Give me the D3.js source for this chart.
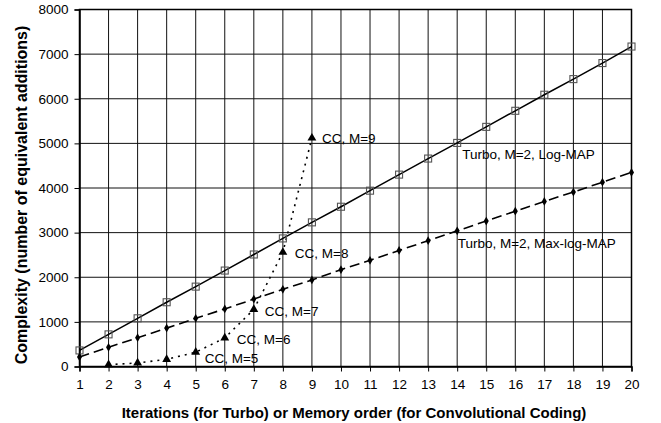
<!DOCTYPE html>
<html>
<head>
<meta charset="utf-8">
<script src="https://cdn.jsdelivr.net/npm/d3@7"></script>
<style>
	body { margin:0; background:#fff; }
	text { font-family:"Liberation Sans", Arial, sans-serif; }
</style>
</head>
<body>
<div id="idChart"></div>
<script>
// x values: iterations (Turbo) / memory order (CC)
var aIterations=[1,2,3,4,5,6,7,8,9,10,11,12,13,14,15,16,17,18,19,20];
var aLogMAP=[360,720,1080,1440,1790,2150,2510,2870,3230,3580,3940,4300,4660,5010,5370,5730,6090,6440,6800,7170];
var aMaxLogMAP=[215,430,645,860,1080,1290,1510,1730,1940,2170,2380,2600,2820,3040,3260,3480,3700,3910,4130,4350];
var aMemory=[2,3,4,5,6,7,8,9];
var aCC=[40,80,160,320,640,1280,2560,5120];
var aYTicks=[0,1000,2000,3000,4000,5000,6000,7000,8000];
var aCCLabels=["","","","CC, M=5","CC, M=6","CC, M=7","CC, M=8","CC, M=9"];
var sLogLabel="Turbo, M=2, Log-MAP";
var sMaxLabel="Turbo, M=2, Max-log-MAP";
var sXTitle="Iterations (for Turbo) or Memory order (for Convolutional Coding)";
var sYTitle="Complexity (number of equivalent additions)";

var iWidth=661;
var iHeight=423;
var iLeft=79.5, iRight=631.5, iTop=9.5, iBottom=366.5;

var mySvg=d3.select("#idChart").append("svg")
	.attr("width",iWidth)
	.attr("height",iHeight);

var xScale=d3.scaleLinear().domain([1,20]).range([iLeft,iRight]);
var yScale=d3.scaleLinear().domain([0,8000]).range([iBottom,iTop]);

// grid
var myGrid=mySvg.append("g");
myGrid.selectAll(".vgrid")
	.data(aIterations.slice(1,-1))
	.enter().append("line")
		.attr("x1",function(d){return xScale(d);})
		.attr("x2",function(d){return xScale(d);})
		.attr("y1",iTop).attr("y2",iBottom)
		.attr("stroke","#111").attr("stroke-width",1);
myGrid.selectAll(".hgrid")
	.data(aYTicks.slice(1,-1))
	.enter().append("line")
		.attr("y1",function(d){return yScale(d);})
		.attr("y2",function(d){return yScale(d);})
		.attr("x1",iLeft).attr("x2",iRight)
		.attr("stroke","#111").attr("stroke-width",1);

// frame
mySvg.append("rect")
	.attr("x",iLeft).attr("y",iTop)
	.attr("width",iRight-iLeft).attr("height",iBottom-iTop)
	.attr("fill","none").attr("stroke","#000").attr("stroke-width",1.5);

// axes
var xAxis=d3.axisBottom(xScale).tickValues(aIterations).tickSize(5).tickPadding(8).tickFormat(d3.format("d"));
var yAxis=d3.axisLeft(yScale).tickValues(aYTicks).tickSize(5).tickPadding(6).tickFormat(d3.format("d"));

var gX=mySvg.append("g").attr("transform","translate(0,"+iBottom+")").call(xAxis);
var gY=mySvg.append("g").attr("transform","translate("+iLeft+",0)").call(yAxis);
[gX,gY].forEach(function(g){
	g.select(".domain").attr("stroke","#000").attr("stroke-width",1.5);
	g.selectAll(".tick line").attr("stroke","#000");
	g.selectAll(".tick text")
		.attr("fill","#000")
		.style("font-family","'Liberation Sans', Arial, sans-serif")
		.style("font-size","13.5px");
});

// lines
var fLine=function(aX){
	return d3.line()
		.x(function(d,i){return xScale(aX[i]);})
		.y(function(d){return yScale(d);});
};

mySvg.append("path")
	.attr("d",fLine(aIterations)(aLogMAP))
	.attr("fill","none").attr("stroke","#000").attr("stroke-width",1.5);

mySvg.append("path")
	.attr("d",fLine(aIterations)(aMaxLogMAP))
	.attr("fill","none").attr("stroke","#000").attr("stroke-width",1.6)
	.attr("stroke-dasharray","10,5");

mySvg.append("path")
	.attr("d",fLine(aMemory)(aCC))
	.attr("fill","none").attr("stroke","#000").attr("stroke-width",1.6)
	.attr("stroke-dasharray","2,5");

// markers
mySvg.selectAll(".LogMark")
	.data(aLogMAP)
	.enter().append("rect")
		.attr("x",function(d,i){return xScale(aIterations[i])-3.5;})
		.attr("y",function(d){return yScale(d)-3.5;})
		.attr("width",7).attr("height",7)
		.attr("fill","none").attr("stroke","#555").attr("stroke-width",1.1);

mySvg.selectAll(".MaxMark")
	.data(aMaxLogMAP)
	.enter().append("path")
		.attr("transform",function(d,i){return "translate("+xScale(aIterations[i])+","+yScale(d)+")";})
		.attr("d",d3.symbol().type(d3.symbolDiamond).size(22))
		.attr("fill","#000");

mySvg.selectAll(".CCMark")
	.data(aCC)
	.enter().append("path")
		.attr("transform",function(d,i){return "translate("+xScale(aMemory[i])+","+yScale(d)+")";})
		.attr("d",d3.symbol().type(d3.symbolTriangle).size(34))
		.attr("fill","#000");

// labels
var aCCOffset=[[0,0],[0,0],[0,0],[9,6],[12,1],[11,2],[12,1],[10,0]];
mySvg.selectAll(".CCLabel")
	.data(aCC)
	.enter().append("text")
		.attr("x",function(d,i){return xScale(aMemory[i])+aCCOffset[i][0];})
		.attr("y",function(d,i){return yScale(d)+aCCOffset[i][1];})
		.attr("dy","0.35em")
		.style("font-size","13.5px")
		.text(function(d,i){return aCCLabels[i];});

mySvg.append("text")
	.attr("x",xScale(14)+5).attr("y",yScale(aLogMAP[13])+11).attr("dy","0.35em")
	.style("font-size","13.5px")
	.text(sLogLabel);

mySvg.append("text")
	.attr("x",xScale(14)+0.5).attr("y",yScale(aMaxLogMAP[13])+12).attr("dy","0.35em")
	.style("font-size","13.5px")
	.text(sMaxLabel);

// titles
mySvg.append("text")
	.attr("x",354).attr("y",413).attr("dy","0.35em")
	.attr("text-anchor","middle")
	.style("font-size","15px").style("font-weight","bold")
	.text(sXTitle);

mySvg.append("text")
	.attr("transform","translate(21,195) rotate(-90)")
	.attr("dy","0.35em")
	.attr("text-anchor","middle")
	.style("font-size","16px").style("font-weight","bold")
	.text(sYTitle);
</script>
</body>
</html>
